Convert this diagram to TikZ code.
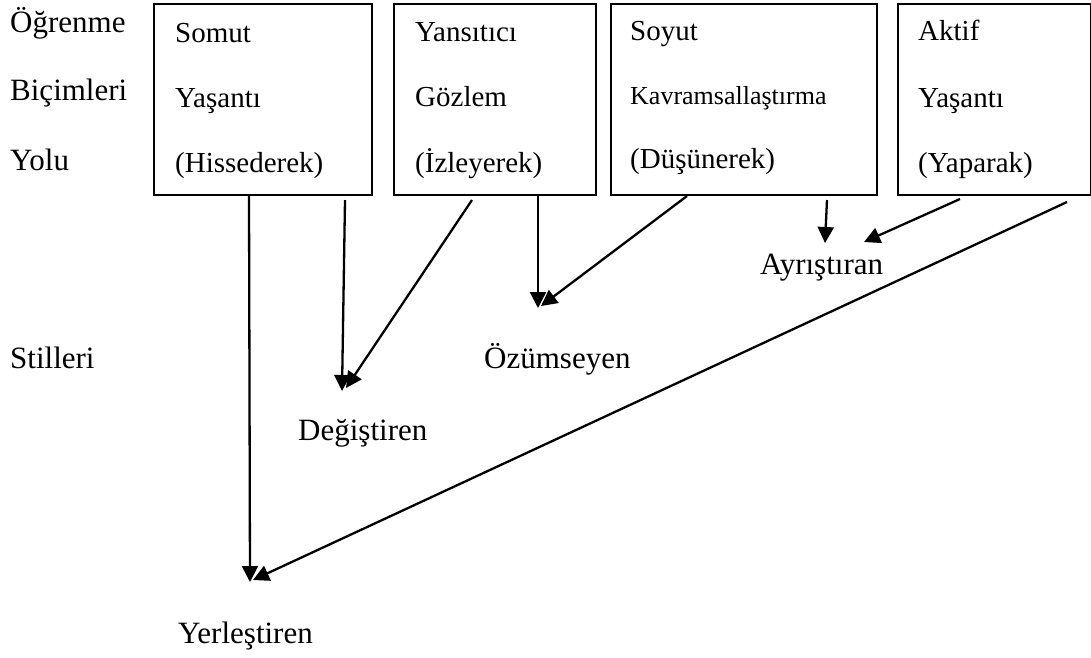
\documentclass[tikz,border=0pt]{standalone}
\usepackage{fontspec}
\setmainfont{Liberation Serif}
\usetikzlibrary{arrows.meta,calc}
\begin{document}
\begin{tikzpicture}[x=1pt,y=-1pt,
  boxnode/.style={draw,line width=2pt,anchor=north west,inner sep=0pt},
  lbl/.style={anchor=base west,inner sep=0pt,font=\fontsize{31}{37}\selectfont},
  btxt/.style={anchor=base west,inner sep=0pt,font=\fontsize{29}{35}\selectfont},
  stxt/.style={anchor=base west,inner sep=0pt,font=\fontsize{26}{31}\selectfont},
  arr/.style={line width=2.3pt,-{Triangle[length=16pt,width=16pt]}}]
\useasboundingbox (0,0) rectangle (1091,657);
% left labels
\node[lbl] (l1) at (10,32) {Öğrenme};
\node[lbl] (l2) at (10,100) {Biçimleri};
\node[lbl] (l3) at (10,170) {Yolu};
\node[lbl] (l4) at (10,368) {Stilleri};
% boxes
\node[boxnode,minimum width=218pt,minimum height=191pt] (b1) at (153,3) {};
\node[boxnode,minimum width=202pt,minimum height=191pt] (b2) at (393,3) {};
\node[boxnode,minimum width=266pt,minimum height=191pt] (b3) at (610,3) {};
\node[boxnode,minimum width=193pt,minimum height=191pt] (b4) at (897,3) {};
% box texts
\node[btxt] (b1a) at (175,42) {Somut};
\node[btxt] (b1b) at (175,107) {Yaşantı};
\node[btxt] (b1c) at (175,172) {(Hissederek)};
\node[btxt] (b2a) at (415,41) {Yansıtıcı};
\node[btxt] (b2b) at (415,106) {Gözlem};
\node[btxt] (b2c) at (415,172) {(İzleyerek)};
\node[btxt] (b3a) at (630,40) {Soyut};
\node[stxt] (b3b) at (630,104) {Kavramsallaştırma};
\node[btxt] (b3c) at (630,168) {(Düşünerek)};
\node[btxt] (b4a) at (918,40) {Aktif};
\node[btxt] (b4b) at (918,107) {Yaşantı};
\node[btxt] (b4c) at (918,172) {(Yaparak)};
% style labels
\node[lbl] (ay) at (760,274) {Ayrıştıran};
\node[lbl] (oz) at (484,368) {Özümseyen};
\node[lbl] (de) at (298,440) {Değiştiren};
\node[lbl] (ye) at (178,643) {Yerleştiren};
% arrow targets
\coordinate (tye1) at (250,582);
\coordinate (tye2) at (253,580);
\coordinate (tde1) at (342,391);
\coordinate (tde2) at (346,388);
\coordinate (toz1) at (538,308);
\coordinate (toz2) at (541,306);
\coordinate (tay1) at (825,243);
\coordinate (tay2) at (864,242);
% arrows
\draw[arr] ($(b1.south west)+(96,0)$) -- (tye1);
\draw[arr] ($(b1.south west)+(192,4)$) -- (tde1);
\draw[arr] ($(b2.south west)+(79,4)$) -- (tde2);
\draw[arr] ($(b2.south west)+(145,0)$) -- (toz1);
\draw[arr] ($(b3.south west)+(77,0)$) -- (toz2);
\draw[arr] ($(b3.south west)+(217,4)$) -- (tay1);
\draw[arr] ($(b4.south west)+(63,3)$) -- (tay2);
\draw[arr] ($(b4.south west)+(170,6)$) -- (tye2);
\end{tikzpicture}
\end{document}
